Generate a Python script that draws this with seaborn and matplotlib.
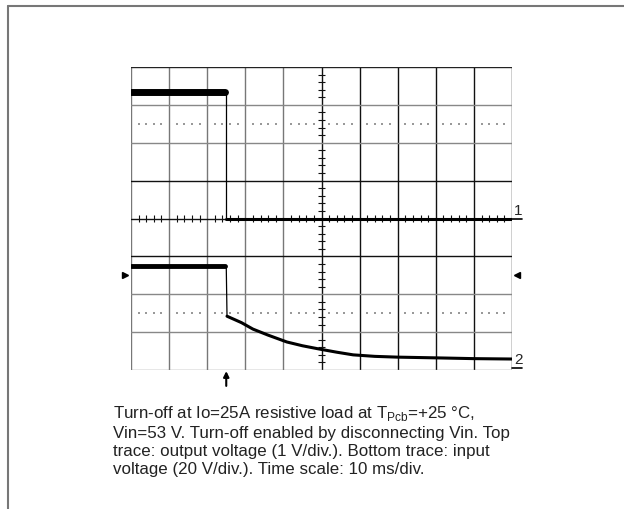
import numpy as np
import pandas as pd
import matplotlib
matplotlib.use('Agg')
import matplotlib.pyplot as plt
from matplotlib.lines import Line2D
import seaborn as sns

# Oscilloscope traces, read in grid divisions (x: 10 ms/div, y: divisions above bottom line)
# top trace: output voltage (1 V/div)
t_out_on = [0.0, 2.48]
v_out_on = [7.33, 7.33]
t_out_drop = [2.5, 2.5]
v_out_drop = [7.33, 4.0]
t_out_off = [2.5, 4.0, 6.0, 8.0, 10.0]
v_out_off = [4.0, 4.0, 4.0, 4.0, 4.0]

# bottom trace: input voltage (20 V/div)
t_in_on = [0.0, 2.48]
v_in_on = [2.75, 2.75]
t_in_drop = [2.5, 2.52]
v_in_drop = [2.75, 1.42]
t_in_off = [2.52, 2.9, 3.2, 3.6, 4.09, 4.5, 4.96, 5.4, 5.83, 6.4, 6.98, 8.03, 9.0, 10.0]
v_in_off = [1.42, 1.25, 1.08, 0.92, 0.74, 0.64, 0.55, 0.47, 0.40, 0.36, 0.34, 0.32, 0.30, 0.29]

gnd1 = 4.0
gnd2 = 0.05
trig_level = 2.5
trig_time = 2.5

caption = ("Turn-off at Io=25A resistive load at T$_{\\mathrm{Pcb}}$=+25 °C,\n"
           "Vin=53 V. Turn-off enabled by disconnecting Vin. Top\n"
           "trace: output voltage (1 V/div.). Bottom trace: input\n"
           "voltage (20 V/div.). Time scale: 10 ms/div.")

sns.set_style("white")
plt.rcParams['font.family'] = ['Liberation Sans', 'DejaVu Sans']
plt.rcParams['mathtext.fontset'] = 'custom'
plt.rcParams['mathtext.rm'] = 'Liberation Sans'

fig = plt.figure(figsize=(6.24, 5.10), dpi=100)
ax = fig.add_axes([131 / 624, 1 - 371 / 510, 381 / 624, 303 / 510])
ax.set_xlim(0, 10)
ax.set_ylim(0, 8)
ax.set_xticks([])
ax.set_yticks([])
for s in ax.spines.values():
    s.set_visible(False)

# graticule
v_cols = ['#777', '#777', '#777', '#777', '#777', '#111', '#111', '#111', '#111', '#111', '#111']
h_cols = ['#888', '#888', '#888', '#111', '#111', '#111', '#888', '#888', '#222']
for i, c in enumerate(v_cols):
    ax.axvline(i, color=c, lw=1.0, zorder=1)
for i, c in enumerate(h_cols):
    ax.axhline(i, color=c, lw=1.0, zorder=1)

minor = [d + 0.2 * k for d in range(10) for k in range(1, 5)]
minor_y = [d + 0.2 * k for d in range(8) for k in range(1, 5)]
ax.vlines(minor, gnd1 - 0.09, gnd1 + 0.09, color='#111', lw=0.8, zorder=2)
ax.hlines(minor_y, 5 - 0.09, 5 + 0.09, color='#111', lw=0.8, zorder=2)
for yy in [6.5, 1.5]:
    ax.scatter(minor, [yy] * len(minor), s=1.2, color='#999', marker='s', lw=0, zorder=2)

# traces
def trace(t, v, lw):
    df = pd.DataFrame({'t': t, 'v': v})
    sns.lineplot(data=df, x='t', y='v', ax=ax, color='black', lw=lw,
                 estimator=None, sort=False, zorder=3)

trace(t_out_on, v_out_on, 5.0)
trace(t_out_drop, v_out_drop, 0.9)
trace(t_out_off, v_out_off, 2.2)
trace(t_in_on, v_in_on, 3.5)
trace(t_in_drop, v_in_drop, 0.9)
trace(t_in_off, v_in_off, 2.2)
ax.set_xlabel('')
ax.set_ylabel('')

# channel markers, trigger marks
for lvl, lab in [(gnd1, '1'), (gnd2, '2')]:
    ax.plot([10, 10.26], [lvl, lvl], color='black', lw=1.2, clip_on=False)
    ax.text(10.05, lvl + 0.05, lab, fontsize=11, ha='left', va='bottom', clip_on=False)
ax.plot([-0.16], [trig_level], marker='>', color='black', ms=5, clip_on=False)
ax.plot([10.12], [trig_level], marker='<', color='black', ms=5, clip_on=False)
ax.annotate('', xy=(trig_time, -0.03), xytext=(trig_time, -0.42),
            arrowprops=dict(arrowstyle='-|>', color='black', lw=1.5,
                            mutation_scale=8, shrinkA=0, shrinkB=0),
            annotation_clip=False)

# outer frame
fig.add_artist(Line2D([8 / 624, 1.0], [1 - 7 / 510, 1 - 7 / 510], color='#777', lw=1.5))
fig.add_artist(Line2D([8 / 624, 8 / 624], [0.0, 1 - 7 / 510], color='#777', lw=1.5))

fig.text(113 / 624, 1 - 404 / 510, caption, fontsize=12.2, ha='left', va='top',
         linespacing=1.25, color='#222')

fig.savefig('out.png', dpi=100)
